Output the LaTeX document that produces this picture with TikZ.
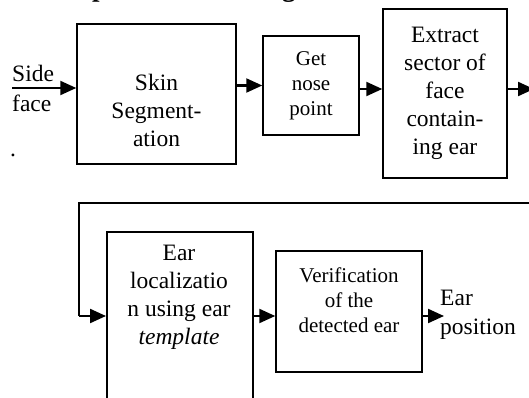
\documentclass[tikz,border=0pt]{standalone}
\usepackage{fontspec}
\setmainfont{Liberation Serif}
\usetikzlibrary{arrows.meta,calc}
\begin{document}
\begin{tikzpicture}[x=1pt,y=-1pt,
 box/.style={draw,line width=1.5pt,inner sep=0pt},
 txt/.style={align=center,font=\fontsize{23.5}{28}\selectfont,inner sep=0pt},
 stxt/.style={align=center,font=\fontsize{21}{25}\selectfont,inner sep=0pt},
 ttl/.style={font=\fontsize{27}{30}\selectfont\bfseries,anchor=base west,inner sep=0pt},
 arr/.style={-{Triangle[length=16pt,width=14pt]},line width=2.2pt},
 fb/.style={line width=1.2pt}]
\useasboundingbox (0,0) rectangle (529,398);
\clip (0,0) rectangle (529,398);
% title fragments (clipped)
\node[ttl] (tp) at (92,-3) {p};
\node[ttl] (tg) at (282,-3) {g};
% row coordinates
\coordinate (r1) at (0,89);
\coordinate (r2) at (0,316);
% top row
\node[txt,anchor=west] (side) at (12,73) {Side};
\node[txt,anchor=west] (face) at (12,103) {face};
\node[txt] (dot) at (13,155) {.};
\coordinate (in) at (12,88);
\node[box,minimum width=159pt,minimum height=140pt] (skin) at (156.5,94) {};
\node[txt] (skint) at (156.5,110) {Skin\\Segment-\\ation};
\node[box,stxt,minimum width=96pt,minimum height=99pt] (nose) at (311,85.5) {Get\\nose\\point};
\node[box,txt,minimum width=124pt,minimum height=169pt] (ext) at (445,93.5) {Extract\\sector of\\face\\contain-\\ing ear};
\coordinate (eout) at (534,89);
\draw[arr] (in) -- (in -| skin.west);
\draw[arr] (skin.east |- nose.west) -- (nose.west);
\draw[arr] (nose.east |- r1) -- (ext.west |- r1);
\draw[arr] (ext.east |- r1) -- (eout);
% bottom row
\node[box,minimum width=146pt,minimum height=200pt,anchor=north west] (ear) at (106,231) {};
\node[txt] (eart) at (179,297.5) {Ear\\localizatio\\n using ear\\\textit{template}};
\node[box,minimum width=146pt,minimum height=121pt] (ver) at (349,311.5) {};
\node[stxt] (vert) at (349,300) {Verification\\of the\\detected ear};
\node[txt,anchor=west] (eo1) at (440,298) {Ear};
\node[txt,anchor=west] (eo2) at (440,329) {position};
\coordinate (eo) at (444,316);
% feedback
\coordinate (fbr) at (531,203);
\coordinate (fbl) at (79,203);
\draw[fb] (fbr) -- (fbl) -- (fbl |- r2);
\draw[arr] (fbl |- r2) -- (ear.west |- r2);
\draw[arr] (ear.east |- r2) -- (ver.west |- r2);
\draw[arr] (ver.east |- r2) -- (eo);
\end{tikzpicture}
\end{document}
